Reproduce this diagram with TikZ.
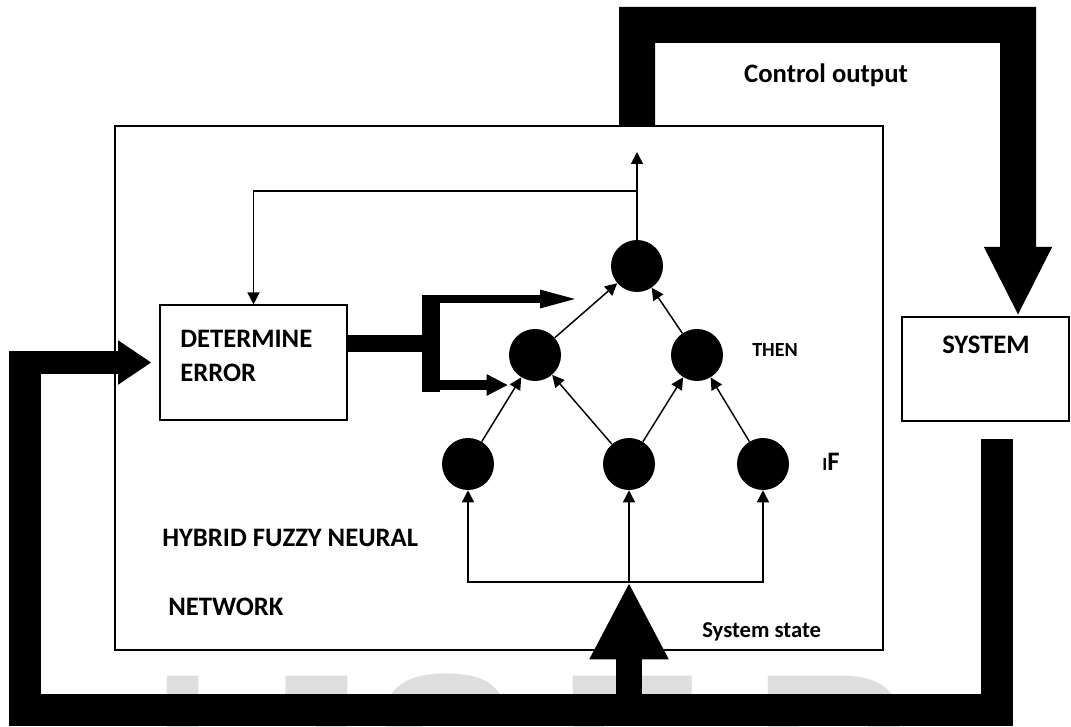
\documentclass[tikz,border=0pt]{standalone}
\usepackage{fontspec}
\setmainfont{Carlito}
\setsansfont{Liberation Sans}
\usetikzlibrary{arrows.meta}

\begin{document}
\begin{tikzpicture}[
        x=0.75pt, y=-0.75pt,
        box/.style={draw, line width=1.1pt, fill=white, inner sep=0pt},
        neuron/.style={circle, fill=black, minimum size=39pt, inner sep=0pt},
        link/.style={line width=1.1pt, -{Triangle[width=9pt,length=9pt]}},
        lbl/.style={font=\bfseries\fontsize{20}{26}\selectfont, inner sep=0pt},
        wmark/.style={font=\sffamily\bfseries\fontsize{165}{165}\selectfont,
            text=black!13, anchor=base west, inner sep=0pt}
    ]
        \useasboundingbox (0,0) rectangle (1071,727);
        \clip (0,0) rectangle (1071,727);

        % Watermark
        \foreach \ch/\xx in {I/152, J/240, S/372, E/558, R/753}
            \node[wmark] (wm\ch) at (\xx,827) {\ch};

        % Hybrid fuzzy neural network
        \node[box, minimum width=576pt, minimum height=393pt] (hfnn) at (499,388) {};
        \node[box, minimum width=140pt, minimum height=86pt] (err) at (253.5,362.5) {};
        \node[lbl, align=left, anchor=west] (errtxt) at (180,356) {DETERMINE\\ERROR};
        \node[lbl, anchor=west] (hfnn1) at (162,538) {HYBRID FUZZY NEURAL};
        \node[lbl, anchor=west] (hfnn2) at (168,607) {NETWORK};

        % System
        \node[box, minimum width=125pt, minimum height=78pt] (sys) at (985.5,369) {};
        \node[lbl] (systxt) at (986,345) {SYSTEM};

        % Neurons
        \node[neuron] (if1) at (468,464) {};
        \node[neuron] (if2) at (629,464) {};
        \node[neuron] (if3) at (763,464) {};
        \node[neuron] (then1) at (535,355) {};
        \node[neuron] (then2) at (697,355) {};
        \node[neuron] (out) at (637,266) {};

        \node[lbl, font=\bfseries\fontsize{15}{18}\selectfont, anchor=west] (thentxt) at (752,350) {THEN};
        \node[lbl, anchor=west] (iftxt) at (822,462) {{\fontsize{14}{16}\selectfont I}F};
        \node[lbl, font=\bfseries\fontsize{17}{20}\selectfont, anchor=west] (sstxt) at (702,632) {System state};
        \node[lbl] (cotxt) at (826,75) {Control output};

        % Rule links
        \draw[link] (if1) -- (then1);
        \draw[link] (if2) -- (then1);
        \draw[link] (if2) -- (then2);
        \draw[link] (if3) -- (then2);
        \draw[link] (then1) -- (out);
        \draw[link] (then2) -- (out);

        % Inputs
        \coordinate (bus) at (629,582);
        \draw[link] (bus) -| (if1);
        \draw[link] (bus) -- (if2);
        \draw[link] (bus) -| (if3);

        % Output and error feedback
        \coordinate (outtip) at (637,152);
        \coordinate (fbk) at (637,191);
        \draw[link] (out) -- (outtip);
        \draw[link] (fbk) -| (err);

        % Error output
        \coordinate (upin) at (580,299);
        \coordinate (lowin) at (508,385);
        \draw[line width=13pt] ([yshift=14.25pt]err.east) -- (440,343.5);
        \draw[line width=13.5pt] (431,295) -- (431,392);
        \draw[line width=6pt, -{Triangle[width=12pt,length=30pt]}] (422,299) -- (upin);
        \draw[line width=7.5pt, -{Triangle[width=15pt,length=16pt]}] (422,385) -- (lowin);

        % Control output
        \draw[line width=27pt, -{Triangle[width=47pt,length=52pt]}]
            (out |- hfnn.north) -- (637,25) -- (1018,25) -- ([xshift=24.4pt]sys.north);

        % System state feedback
        \coordinate (sysout) at (997,439);
        \draw[line width=24pt] (sysout) -- (997,710) -- (25,710) -- (25,351);
        \draw[line width=17pt, -{Triangle[width=31.5pt,length=25pt]}] (9,362.5) -- ([xshift=-6pt]err.west);
        \draw[line width=20pt, -{Triangle[width=55pt,length=58pt]}] (629,700) -- (bus);
    \end{tikzpicture}
\end{document}
